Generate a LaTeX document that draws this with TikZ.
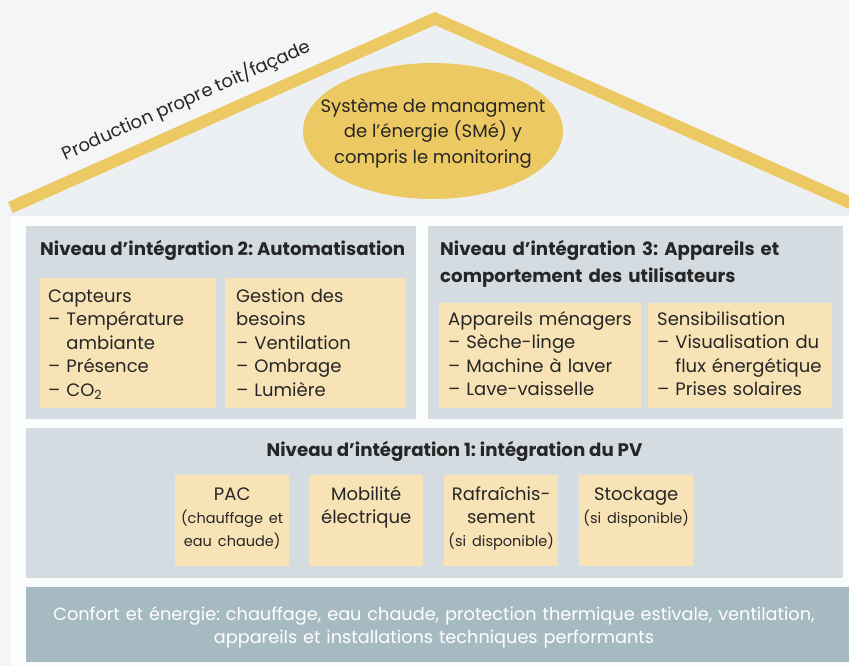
\documentclass[tikz,border=0pt]{standalone}
\usepackage{fontspec}
\setmainfont{Poppins}[Ligatures=NoCommon]
\usetikzlibrary{shapes.geometric}
\frenchspacing

\definecolor{bgcol}{HTML}{F3F5F7}
\definecolor{roofin}{HTML}{EDF0F3}
\definecolor{housecol}{HTML}{FBFCFC}
\definecolor{panelcol}{HTML}{D4DBE1}
\definecolor{boxcol}{HTML}{F7E3B6}
\definecolor{goldcol}{HTML}{EDC964}
\definecolor{basecol}{HTML}{A6BAC2}
\definecolor{txtcol}{HTML}{262626}

\begin{document}
\begin{tikzpicture}[x=1pt,y=-1pt]
          \tikzset{panel/.style={fill=panelcol,inner sep=0pt,anchor=north west}};
          \tikzset{ybox/.style={fill=boxcol,inner sep=0pt,anchor=north west}};
          \tikzset{title/.style={font=\fontsize{18.2}{27}\selectfont\bfseries,text=txtcol,inner sep=0pt}};
          \tikzset{item/.style={font=\fontsize{18}{23.5}\selectfont,text=txtcol,align=left,inner sep=0pt,anchor=base west}};
          \tikzset{pvitem/.style={font=\fontsize{18}{23}\selectfont,text=txtcol,align=center,inner sep=0pt,anchor=base,text width=114pt}};
          \tikzset{roofline/.style={goldcol,line width=12pt,miter limit=20}};
          \useasboundingbox[fill=bgcol] (0,0) rectangle (849,666);

          % roof
          \coordinate (roofl) at (10.5,207.5);
          \coordinate (apex) at (435,18.5);
          \coordinate (roofr) at (864,209);
          \fill[roofin] (roofl) -- (apex) -- (roofr) -- (864,216) -- (10.5,216) -- cycle;
          \fill[housecol] (11,216) rectangle (849,666);
          \draw[roofline] (roofl) -- node[pos=0.44,sloped,above=10pt,inner sep=0pt,text=txtcol,font=\fontsize{18}{20}\selectfont] (prod) {Production propre toit/façade} (apex) -- (roofr);

          % energy management
          \fill[goldcol] (433,131) ellipse [x radius=130,y radius=68];
          \node[align=center,text=txtcol,inner sep=0pt,font=\fontsize{18}{25.5}\selectfont] (sme) at (433,133)
               {Système de managment\\de l’énergie (SMé) y\\compris le monitoring};

          % level 2
          \node[panel,minimum width=390pt,minimum height=193pt] (lvltwo) at (26,226) {};
          \node[title,anchor=base west] (lvltwot) at (40,255) {Niveau d’intégration 2: Automatisation};
          \node[ybox,minimum width=176pt,minimum height=130pt] (capt) at (40,278) {};
          \node[ybox,minimum width=181pt,minimum height=130pt] (gest) at (225,278) {};
          \node[item,text width=166pt] (captt) at (48,302)
               {Capteurs\\– Température\\\hphantom{– }ambiante\\– Présence\\– CO\textsubscript{2}};
          \node[item,text width=166pt] (gestt) at (236,302)
               {Gestion des\\besoins\\– Ventilation\\– Ombrage\\– Lumière};

          % level 3
          \node[panel,minimum width=415pt,minimum height=193pt] (lvlthree) at (428,226) {};
          \node[title,anchor=base west,align=left,text width=400pt] (lvlthreet) at (440,255)
               {Niveau d’intégration 3: Appareils et\\comportement des utilisateurs};
          \node[ybox,minimum width=202pt,minimum height=105pt] (menag) at (439,303) {};
          \node[ybox,minimum width=184pt,minimum height=105pt] (sensi) at (648,303) {};
          \node[item,text width=190pt] (menagt) at (448,325)
               {Appareils ménagers\\– Sèche-linge\\– Machine à laver\\– Lave-vaisselle};
          \node[item,text width=176pt] (sensit) at (657,325)
               {Sensibilisation\\– Visualisation du\\\hphantom{– }flux énergétique\\– Prises solaires};

          % level 1
          \node[panel,minimum width=817pt,minimum height=150pt] (lvlone) at (26,428) {};
          \node[title,anchor=base] (lvlonet) at (454.5,456) {Niveau d’intégration 1: intégration du PV};
          \node[ybox,minimum width=114pt,minimum height=91pt] (pac) at (175,475) {};
          \node[ybox,minimum width=114pt,minimum height=91pt] (mobil) at (309,475) {};
          \node[ybox,minimum width=114pt,minimum height=91pt] (rafr) at (444,475) {};
          \node[ybox,minimum width=114pt,minimum height=91pt] (stock) at (579,475) {};
          \node[pvitem] (pact) at (pac.north |- 0,500)
               {PAC\\\fontsize{14.5}{23}\selectfont(chauffage et\\eau chaude)};
          \node[pvitem] (mobilt) at (mobil.north |- 0,500) {Mobilité\\électrique};
          \node[pvitem] (rafrt) at (rafr.north |- 0,500)
               {Rafraîchis-\\sement\\\fontsize{14.5}{23}\selectfont(si disponible)};
          \node[pvitem] (stockt) at (stock.north |- 0,500)
               {Stockage\\\fontsize{14.5}{22}\selectfont(si disponible)};

          % base
          \node[panel,fill=basecol,minimum width=823pt,minimum height=75pt] (base) at (26,587) {};
          \node[align=center,text width=820pt,anchor=base,inner sep=0pt,text=white,font=\fontsize{17.7}{23}\selectfont] (baset) at (434,620)
               {Confort et énergie: chauffage, eau chaude, protection thermique estivale, ventilation,\\appareils et installations techniques performants};
\end{tikzpicture}
\end{document}
